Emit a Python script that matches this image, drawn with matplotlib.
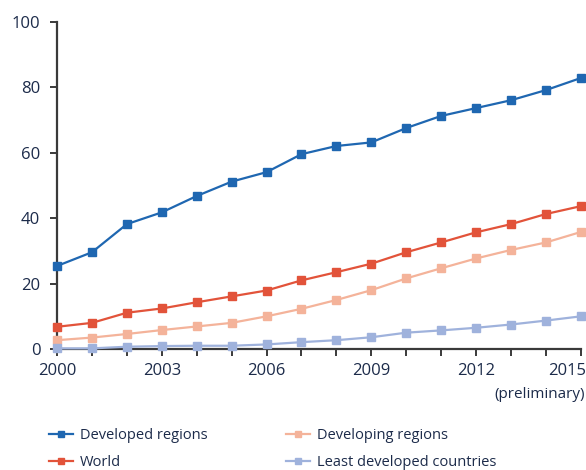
import matplotlib
matplotlib.use("Agg")
import matplotlib.pyplot as plt
from matplotlib.transforms import ScaledTranslation

plt.rcParams['font.family'] = ['Open Sans', 'DejaVu Sans']

years = list(range(2000, 2016))
developed = [25.4, 29.6, 38.2, 41.8, 46.8, 51.2, 54.1, 59.6, 62.1, 63.2, 67.6, 71.3, 73.7, 76.1, 79.2, 82.9]
world = [6.8, 8.0, 11.1, 12.4, 14.3, 16.1, 17.9, 21.0, 23.5, 26.1, 29.6, 32.6, 35.7, 38.2, 41.3, 43.7]
developing = [2.7, 3.5, 4.6, 5.8, 6.9, 8.0, 10.0, 12.3, 15.0, 18.0, 21.6, 24.7, 27.7, 30.3, 32.6, 35.8]
least_developed = [0.2, 0.2, 0.7, 0.9, 1.0, 1.0, 1.4, 2.1, 2.7, 3.6, 5.0, 5.7, 6.5, 7.5, 8.7, 10.0]

x_tick_labels = ['2000', '2003', '2006', '2009', '2012', '2015']
y_ticks = [0, 20, 40, 60, 80, 100]

series = [
    ("Developed regions", developed, "#1f67b1"),
    ("World", world, "#e2533a"),
    ("Developing regions", developing, "#f4b39a"),
    ("Least developed countries", least_developed, "#9fb2dc"),
]

text_color = "#1c2b4a"
axis_color = "#3a3a3a"

fig = plt.figure(figsize=(5.86, 4.70), dpi=100)
ax = fig.add_axes([0.0973, 0.2574, 0.894, 0.6956])

handles = []
for name, vals, col in series:
    h, = ax.plot(years, vals, color=col, lw=1.6, marker='s', ms=5.5,
                 mec=col, mfc=col, clip_on=False, zorder=3, label=name)
    handles.append(h)

ax.set_xlim(2000, 2015)
ax.set_ylim(0, 100)
ax.set_xticks(years)
ax.set_xticklabels([str(y) if str(y) in x_tick_labels else '' for y in years])
ax.set_yticks(y_ticks)
ax.set_yticklabels([str(v) for v in y_ticks])

for s in ['top', 'right']:
    ax.spines[s].set_visible(False)
for s in ['left', 'bottom']:
    ax.spines[s].set_color(axis_color)
    ax.spines[s].set_linewidth(1.6)

ax.tick_params(axis='both', colors=axis_color, width=1.4, length=5,
               labelsize=12, labelcolor=text_color)
ax.tick_params(axis='x', pad=5)
ax.tick_params(axis='y', pad=7)

# keep the last year label inside the figure
last = ax.get_xticklabels()[-1]
last.set_ha('right')
last.set_transform(last.get_transform() + ScaledTranslation(4 / 72, 0, fig.dpi_scale_trans))

fig.text(585 / 586, 1 - 394 / 470, "(preliminary)", ha='right', va='center',
         fontsize=11, color=text_color)

fig.legend(handles, [s[0] for s in series],
           ncol=2, loc='upper left', bbox_to_anchor=(0.062, 0.118),
           frameon=False, fontsize=10.5, labelcolor=text_color,
           handlelength=1.6, handletextpad=0.5, columnspacing=5.4,
           labelspacing=0.85, markerscale=0.8)

fig.savefig("out.png", dpi=100)
